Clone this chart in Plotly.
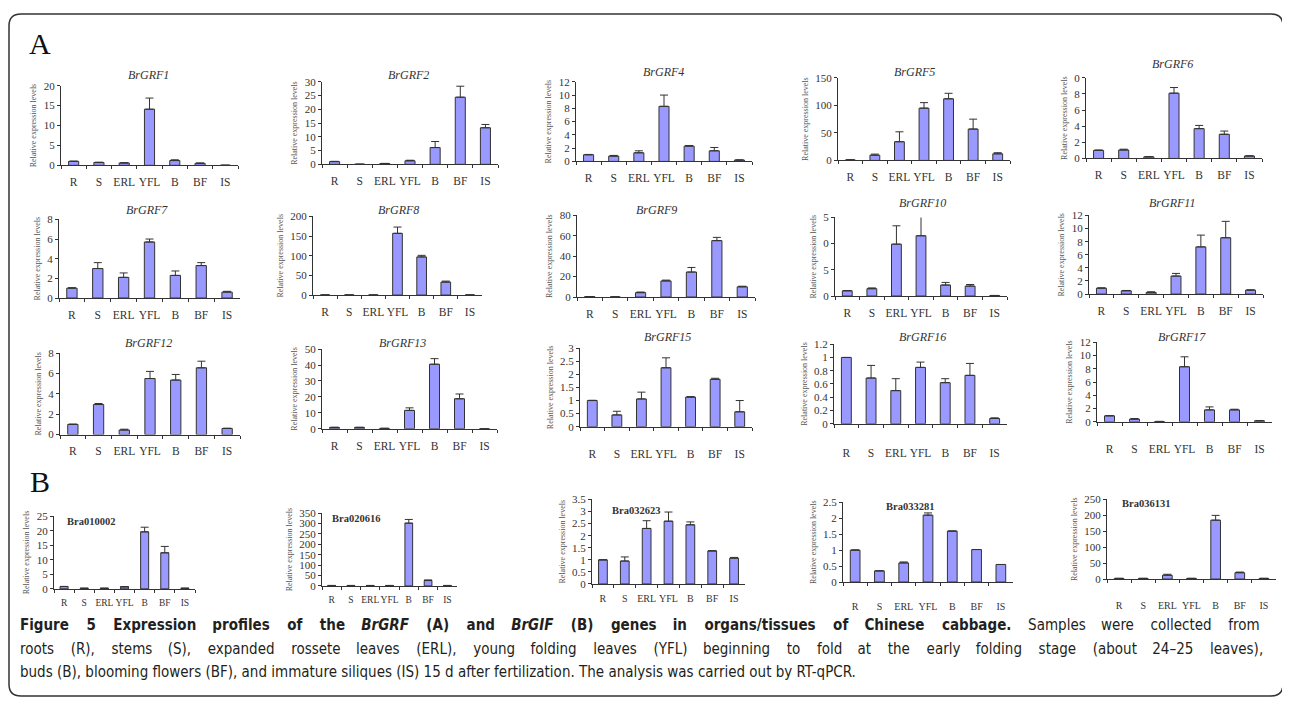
import plotly.graph_objects as go

# page body has an 8px margin: the figure is sized to fill the window from there
OFF = 8
W, H = 1290 - 2 * OFF, 710 - 2 * OFF
cats = ["R", "S", "ERL", "YFL", "B", "BF", "IS"]

# ---- data (relative expression levels, upward error bars) ----
grf1 = [1.0, 0.7, 0.6, 14.1, 1.2, 0.5, 0.02]
grf1_err = [0.05, 0.1, 0.05, 2.8, 0.2, 0.1, 0]
grf2 = [1.0, 0.05, 0.3, 1.3, 6.1, 24.4, 13.3]
grf2_err = [0.1, 0, 0.05, 0.2, 2.2, 4.0, 1.2]
grf4 = [1.0, 0.8, 1.3, 8.3, 2.3, 1.6, 0.2]
grf4_err = [0.05, 0.1, 0.3, 1.7, 0.1, 0.5, 0.03]
grf5 = [1.0, 9.5, 34, 95, 112, 57, 12]
grf5_err = [0.2, 2, 18, 10, 10, 18, 2]
grf6 = [1.0, 1.05, 0.2, 8.1, 3.7, 3.0, 0.3]
grf6_err = [0.05, 0.1, 0.03, 0.7, 0.4, 0.4, 0.03]
grf7 = [1.0, 3.0, 2.1, 5.7, 2.3, 3.3, 0.6]
grf7_err = [0.05, 0.6, 0.45, 0.3, 0.45, 0.3, 0.08]
grf8 = [0.1, 0.1, 0.1, 157, 97, 33, 0.1]
grf8_err = [0, 0, 0, 16, 4, 2.5, 0]
grf9 = [0.4, 0.05, 4.3, 15.8, 24.5, 55.3, 10]
grf9_err = [0.1, 0, 0.6, 0.8, 4.5, 3.2, 0.6]
grf10 = [1.0, 1.4, 9.9, 11.5, 2.1, 1.9, 0.1]
grf10_err = [0.05, 0.15, 3.5, 4.3, 0.5, 0.3, 0.02]
grf11 = [0.9, 0.5, 0.25, 2.75, 7.2, 8.6, 0.6]
grf11_err = [0.05, 0.05, 0.1, 0.4, 1.8, 2.5, 0.05]
grf12 = [1.0, 2.95, 0.45, 5.5, 5.35, 6.55, 0.6]
grf12_err = [0.03, 0.1, 0.08, 0.7, 0.55, 0.65, 0.03]
grf13 = [0.8, 0.8, 0.2, 11.5, 40.5, 18.8, 0]
grf13_err = [0.1, 0.1, 0.05, 1.6, 3.5, 3.0, 0]
grf15 = [1.0, 0.45, 1.06, 2.25, 1.13, 1.81, 0.57]
grf15_err = [0.01, 0.14, 0.26, 0.38, 0.02, 0.04, 0.43]
grf16 = [1.0, 0.69, 0.5, 0.85, 0.62, 0.73, 0.08]
grf16_err = [0, 0.19, 0.18, 0.08, 0.06, 0.18, 0.01]
grf17 = [0.9, 0.4, 0.05, 8.3, 1.8, 1.8, 0.15]
grf17_err = [0.05, 0.1, 0.02, 1.5, 0.45, 0.1, 0.05]
bra010002 = [0.8, 0.2, 0.2, 0.7, 19.6, 12.4, 0.2]
bra010002_err = [0.05, 0.05, 0.05, 0.1, 1.6, 2.2, 0.05]
bra020616 = [2, 2, 2, 2, 302, 26, 2]
bra020616_err = [0.5, 0.5, 0.5, 0.5, 18, 3, 0.5]
bra032623 = [1.0, 0.95, 2.3, 2.6, 2.45, 1.37, 1.07]
bra032623_err = [0, 0.17, 0.32, 0.38, 0.12, 0, 0.03]
bra033281 = [1.0, 0.35, 0.6, 2.1, 1.6, 1.02, 0.55]
bra033281_err = [0.01, 0, 0.03, 0.07, 0, 0, 0]
bra036131 = [2, 2, 12, 2, 185, 20, 2]
bra036131_err = [0.3, 0.3, 3, 0.3, 15, 2, 0.3]

# panel table: name, values, errors, ymax, step, visible tick text override, title style
panels = [
    ("BrGRF1", grf1, grf1_err, 20, 5, None, "i"),
    ("BrGRF2", grf2, grf2_err, 30, 5, None, "i"),
    ("BrGRF4", grf4, grf4_err, 12, 2, None, "i"),
    ("BrGRF5", grf5, grf5_err, 150, 50, None, "i"),
    ("BrGRF6", grf6, grf6_err, 10, 2, ["0", "2", "4", "6", "8", "0"], "i"),
    ("BrGRF7", grf7, grf7_err, 8, 2, None, "i"),
    ("BrGRF8", grf8, grf8_err, 200, 50, None, "i"),
    ("BrGRF9", grf9, grf9_err, 80, 20, None, "i"),
    ("BrGRF10", grf10, grf10_err, 15, 5, ["0", "5", "0", "5"], "i"),
    ("BrGRF11", grf11, grf11_err, 12, 2, None, "i"),
    ("BrGRF12", grf12, grf12_err, 8, 2, None, "i"),
    ("BrGRF13", grf13, grf13_err, 50, 10, None, "i"),
    ("BrGRF15", grf15, grf15_err, 3, 0.5, None, "i"),
    ("BrGRF16", grf16, grf16_err, 1.2, 0.2, None, "i"),
    ("BrGRF17", grf17, grf17_err, 12, 2, None, "i"),
    ("Bra010002", bra010002, bra010002_err, 25, 5, None, "b"),
    ("Bra020616", bra020616, bra020616_err, 350, 50, None, "b"),
    ("Bra032623", bra032623, bra032623_err, 3.5, 0.5, None, "b"),
    ("Bra033281", bra033281, bra033281_err, 2.5, 0.5, None, "b"),
    ("Bra036131", bra036131, bra036131_err, 250, 50, None, "b"),
]

# layout boxes in window pixels:
# x_left, x_right, y_top, y_zero, title_x, title_y, label gap, x label size
boxes = [
    (61, 238, 81, 162, 148, 70, 6, 11.5),
    (322, 498, 77, 161, 408, 70, 6, 11.5),
    (576, 752, 77, 158, 663, 67, 6, 11.5),
    (838, 1010, 73, 157, 915, 67, 6, 11.5),
    (1086, 1262, 73, 155, 1172, 59, 6, 11.5),
    (59, 240, 217, 297, 147, 207, 6, 11.5),
    (313, 482, 214, 294, 398, 207, 6, 11.5),
    (577, 755, 213, 296, 657, 207, 6, 11.5),
    (835, 1007, 215, 295, 922, 200, 6, 11.5),
    (1089, 1263, 213, 293, 1172, 200, 6, 11.5),
    (60, 240, 353, 436, 148, 343, 6, 11.5),
    (322, 497, 349, 430, 403, 343, 6, 11.5),
    (580, 752, 348, 428, 668, 337, 16, 11.5),
    (834, 1007, 344, 425, 922, 337, 18, 11.5),
    (1097, 1272, 342, 423, 1182, 337, 16, 11.5),
    (54, 195, 519, 593, 91, 524, 5, 9.5),
    (322, 457, 516, 590, 356, 521, 5, 9.5),
    (592, 745, 502, 588, 636, 513, 5, 10),
    (843, 1013, 505, 586, 910, 509, 15, 10),
    (1107, 1276, 502, 583, 1146, 506, 17, 10),
]

SERIF = "Liberation Serif, Times New Roman, serif"
INK = "#333333"


def fx(x):
    return (x - OFF) / W


def fy(y):
    return 1 - (y - OFF) / H


fig = go.Figure()
layout = dict(
    width=W, height=H, margin=dict(l=0, r=0, t=0, b=0),
    paper_bgcolor="white", plot_bgcolor="rgba(0,0,0,0)",
    showlegend=False, bargap=0.6,
)
annotations = []

for i, ((name, vals, errs, ymax, step, ttext, style), box) in enumerate(zip(panels, boxes), start=1):
    x0, x1, yt, yz, tx, ty, gap, xfs = box
    sfx = "" if i == 1 else str(i)
    fig.add_trace(go.Bar(
        x=cats, y=vals, xaxis="x" + sfx, yaxis="y" + sfx,
        marker=dict(color="#9999FF", line=dict(color=INK, width=1)),
        error_y=dict(type="data", array=errs, arrayminus=[0] * len(errs), symmetric=False,
                     color=INK, thickness=1, width=4),
        cliponaxis=False, hoverinfo="skip",
    ))
    n = int(round(ymax / step))
    tv = [round(k * step, 4) for k in range(n + 1)]
    yax = dict(
        domain=[fy(yz), fy(yt)], anchor="x" + sfx, range=[0, ymax],
        tickvals=tv, showgrid=False, zeroline=False,
        showline=True, linecolor=INK, linewidth=1,
        ticks="outside", ticklen=3, tickcolor=INK,
        tickfont=dict(family=SERIF, size=11, color=INK),
        title=dict(text="Relative expression levels", standoff=5,
                   font=dict(family=SERIF, size=8, color="#555555")),
        fixedrange=True,
    )
    if ttext is not None:
        yax["ticktext"] = ttext
    xax = dict(
        domain=[fx(x0), fx(x1)], anchor="y" + sfx, type="category",
        range=[-0.5, 6.5], showgrid=False, zeroline=False,
        showline=True, linecolor=INK, linewidth=1,
        ticks="outside", ticklen=3, tickcolor=INK, tickson="boundaries",
        tickangle=0,
        tickfont=dict(family=SERIF, size=xfs, color=INK),
        ticklabelstandoff=gap, fixedrange=True,
    )
    layout["xaxis" + sfx] = xax
    layout["yaxis" + sfx] = yax
    if style == "i":
        txt = "<i>" + name + "</i>"
        fs = 12
    else:
        txt = "<b>" + name + "</b>"
        fs = 10.5
    annotations.append(dict(
        x=fx(tx), y=fy(ty), xref="paper", yref="paper", text=txt, showarrow=False,
        xanchor="center", yanchor="middle",
        font=dict(family=SERIF, size=fs, color=INK),
    ))

# panel letters
annotations.append(dict(x=fx(40), y=fy(38), xref="paper", yref="paper", text="A",
                        showarrow=False, xanchor="center", yanchor="middle",
                        font=dict(family=SERIF, size=30, color="#111111")))
annotations.append(dict(x=fx(40), y=fy(484), xref="paper", yref="paper", text="B",
                        showarrow=False, xanchor="center", yanchor="middle",
                        font=dict(family=SERIF, size=30, color="#111111")))


# caption (first two lines justified to the full width via wider word gaps)
def justify(words):
    out = words[0]
    for k, w in enumerate(words[1:]):
        g = "\u00a0\u00a0\u2002" + ("\u200a" if k % 3 != 2 else "")
        out += g + w
    return out


CAP = "DejaVu Sans Condensed, Liberation Sans Narrow, sans-serif"
cap1_bold = ["Figure", "5", "Expression", "profiles", "of", "the", "<i>BrGRF</i>", "(A)", "and",
             "<i>BrGIF</i>", "(B)", "genes", "in", "organs/tissues", "of", "Chinese", "cabbage.</b>",
             "Samples", "were", "collected", "from"]
cap2 = ("roots (R), stems (S), expanded rossete leaves (ERL), young folding leaves (YFL) "
        "beginning to fold at the early folding stage (about 24\u201325 leaves),")
cap3 = ("buds (B), blooming flowers (BF), and immature siliques (IS) 15 d after fertilization. "
        "The analysis was carried out by RT-qPCR.")
cap_lines = [
    "<b>" + justify(cap1_bold),
    justify(cap2.split(" ")),
    cap3,
]
for k, line in enumerate(cap_lines):
    annotations.append(dict(x=fx(18), y=fy(630 + 24 * k), xref="paper", yref="paper",
                            text=line, showarrow=False, xanchor="left", yanchor="middle",
                            font=dict(family=CAP, size=15, color="#231f20")))

layout["annotations"] = annotations

# rounded border around figure + caption
bx0, bx1, by0, by1, r = 9, 1283, 8, 702, 12
path = (
    f"M {fx(bx0 + r)} {fy(by0)} L {fx(bx1 - r)} {fy(by0)} "
    f"Q {fx(bx1)} {fy(by0)} {fx(bx1)} {fy(by0 + r)} "
    f"L {fx(bx1)} {fy(by1 - r)} Q {fx(bx1)} {fy(by1)} {fx(bx1 - r)} {fy(by1)} "
    f"L {fx(bx0 + r)} {fy(by1)} Q {fx(bx0)} {fy(by1)} {fx(bx0)} {fy(by1 - r)} "
    f"L {fx(bx0)} {fy(by0 + r)} Q {fx(bx0)} {fy(by0)} {fx(bx0 + r)} {fy(by0)} Z"
)
layout["shapes"] = [dict(type="path", path=path, xref="paper", yref="paper",
                         line=dict(color="#333333", width=1.5))]

fig.update_layout(**layout)
fig.write_html("out.html")
